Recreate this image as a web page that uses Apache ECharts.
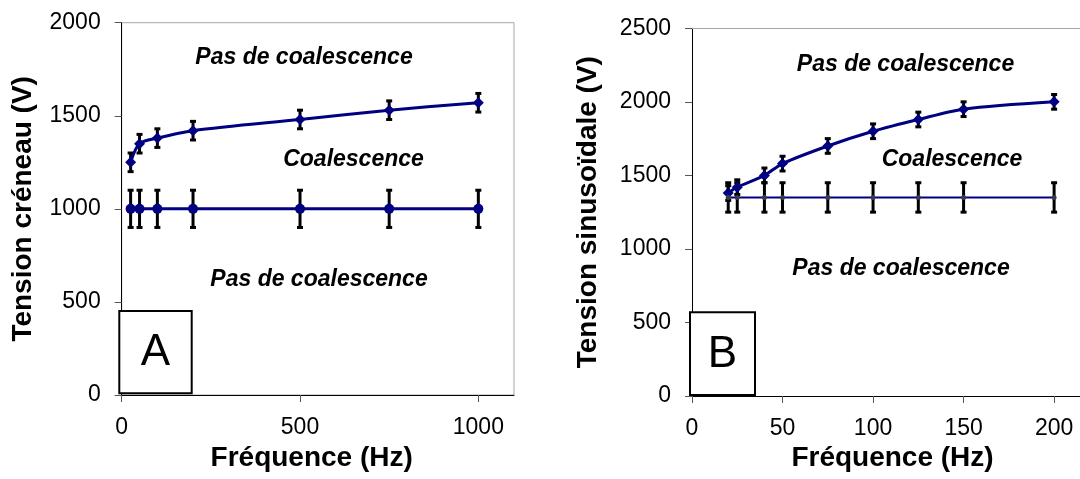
<!DOCTYPE html>
<html>
<head>
<meta charset="utf-8">
<script src="https://cdn.jsdelivr.net/npm/echarts@6/dist/echarts.min.js"></script>
<style>
  html, body { margin: 0; padding: 0; background: #fff; }
  #chart { width: 1080px; height: 479px; }
</style>
</head>
<body>
<div id="chart"></div>
<script>
// panel A : tension créneau
const freqA = [25, 50, 100, 200, 500, 750, 1000]
const upperA = [1250, 1350, 1380, 1420, 1480, 1530, 1570]
const upperErrA = [50, 50, 50, 50, 50, 50, 50]
const lowerA = [1000, 1000, 1000, 1000, 1000, 1000, 1000]
const lowerErrA = [100, 100, 100, 100, 100, 100, 100]
const xTicksA = [0, 500, 1000]

// panel B : tension sinusoïdale
const freqB = [20, 25, 40, 50, 75, 100, 125, 150, 200]
const upperB = [1380, 1420, 1500, 1580, 1700, 1800, 1880, 1950, 2000]
const upperErrB = [50, 50, 50, 50, 50, 50, 50, 50, 50]
const lowerB = [1350, 1350, 1350, 1350, 1350, 1350, 1350, 1350, 1350]
const lowerErrB = [100, 100, 100, 100, 100, 100, 100, 100, 100]
const xTicksB = [0, 50, 100, 150, 200]

const FONT = '"Liberation Sans", Arial, sans-serif'
const NAVY = '#000080'

const pairs = (xs, ys) => xs.map((x, i) => [x, ys[i]])
const plain = v => String(v)

// barres d'erreur noires avec petits chapeaux
function errorBars(idx, xs, ys, errs) {
  return {
    type: 'custom',
    xAxisIndex: idx,
    yAxisIndex: idx,
    z: 2,
    silent: true,
    data: xs.map((x, i) => [x, ys[i] - errs[i], ys[i] + errs[i]]),
    renderItem(params, api) {
      const lo = api.coord([api.value(0), api.value(1)])
      const hi = api.coord([api.value(0), api.value(2)])
      const w = 3
      const st = { stroke: '#000', lineWidth: 3 }
      return {
        type: 'group',
        children: [
          { type: 'line', shape: { x1: lo[0], y1: lo[1], x2: hi[0], y2: hi[1] }, style: st },
          { type: 'line', shape: { x1: lo[0] - w, y1: lo[1], x2: lo[0] + w, y2: lo[1] }, style: st },
          { type: 'line', shape: { x1: hi[0] - w, y1: hi[1], x2: hi[0] + w, y2: hi[1] }, style: st }
        ]
      }
    }
  }
}

function xAxis(idx, max, ticks) {
  return {
    type: 'value', gridIndex: idx, min: 0, max,
    axisLine: { lineStyle: { color: '#000', width: 1 } },
    axisTick: { inside: false, length: 7, customValues: ticks, lineStyle: { color: '#555' } },
    axisLabel: { customValues: ticks, formatter: plain, margin: 21, fontSize: 23, color: '#000', fontFamily: FONT },
    splitLine: { show: false }
  }
}

function yAxis(idx, max, name, gap) {
  return {
    type: 'value', gridIndex: idx, min: 0, max, interval: 500,
    name, nameLocation: 'middle', nameGap: gap, nameRotate: 90,
    nameTextStyle: { fontSize: 28, fontWeight: 'bold', color: '#000', fontFamily: FONT },
    axisLine: { show: true, lineStyle: { color: '#000', width: 1 } },
    axisTick: { show: true, length: 7, lineStyle: { color: '#555' } },
    axisLabel: { formatter: plain, margin: 21, fontSize: 23, color: '#000', fontFamily: FONT },
    splitLine: { show: false }
  }
}

function note(text, x, y) {
  return {
    type: 'text', x, y, z: 10,
    style: { text, font: 'italic bold 23px ' + FONT, fill: '#000', align: 'center', verticalAlign: 'middle' }
  }
}

function title(text, x, y) {
  return {
    type: 'text', x, y, z: 10,
    style: { text, font: 'bold 28px ' + FONT, fill: '#000', align: 'center', verticalAlign: 'middle' }
  }
}

function panelBox(letter, x, y, w, h) {
  return [
    { type: 'rect', shape: { x, y, width: w, height: h }, z: 20,
      style: { fill: '#fff', stroke: '#000', lineWidth: 2 } },
    { type: 'text', x: x + w / 2, y: y + h / 2 + 1, z: 21,
      style: { text: letter, font: '44px ' + FONT, fill: '#000', align: 'center', verticalAlign: 'middle' } }
  ]
}

const chart = echarts.init(document.getElementById('chart'))

chart.setOption({
  animation: false,
  backgroundColor: '#fff',
  grid: [
    { left: 121.7, top: 22.7, width: 392.3, height: 372.3, show: true, borderColor: '#a6a6a6', borderWidth: 1, containLabel: false },
    // le cadre B déborde à droite de l'image : seul le bord du haut est visible
    { left: 692, top: 28.3, right: -3, height: 367.7, show: false, containLabel: false }
  ],
  xAxis: [
    xAxis(0, 1100, xTicksA),
    xAxis(1, 214.3, xTicksB),
    {
      type: 'value', gridIndex: 1, position: 'top', min: 0, max: 214.3,
      axisLine: { show: true, lineStyle: { color: '#a6a6a6', width: 1 } },
      axisTick: { show: false }, axisLabel: { show: false }, splitLine: { show: false }
    }
  ],
  yAxis: [yAxis(0, 2000, 'Tension créneau (V)', 84), yAxis(1, 2500, 'Tension sinusoïdale (V)', 90)],
  series: [
    errorBars(0, freqA, upperA, upperErrA),
    errorBars(0, freqA, lowerA, lowerErrA),
    errorBars(1, freqB, upperB, upperErrB),
    errorBars(1, freqB, lowerB, lowerErrB),
    {
      type: 'line', xAxisIndex: 0, yAxisIndex: 0, z: 3,
      data: pairs(freqA, upperA), smooth: 0.3,
      symbol: 'diamond', symbolSize: 11,
      lineStyle: { color: NAVY, width: 3 }, itemStyle: { color: NAVY }
    },
    {
      type: 'line', xAxisIndex: 0, yAxisIndex: 0, z: 3,
      data: pairs(freqA, lowerA),
      symbol: 'circle', symbolSize: 10,
      lineStyle: { color: NAVY, width: 3 }, itemStyle: { color: NAVY }
    },
    {
      type: 'line', xAxisIndex: 1, yAxisIndex: 1, z: 3,
      data: pairs(freqB, upperB), smooth: 0.3,
      symbol: 'diamond', symbolSize: 11,
      lineStyle: { color: NAVY, width: 3 }, itemStyle: { color: NAVY }
    },
    {
      type: 'line', xAxisIndex: 1, yAxisIndex: 1, z: 3,
      data: pairs(freqB, lowerB),
      symbol: 'circle', symbolSize: 5,
      lineStyle: { color: NAVY, width: 2 }, itemStyle: { color: '#3a3a4a' }
    }
  ],
  graphic: [
    note('Pas de coalescence', 304, 58),
    note('Coalescence', 353.5, 160),
    note('Pas de coalescence', 319, 280),
    note('Pas de coalescence', 905.5, 65),
    note('Coalescence', 952, 159.3),
    note('Pas de coalescence', 901, 268.3),
    title('Fréquence (Hz)', 311.7, 458),
    title('Fréquence (Hz)', 892.5, 458.5),
    ...panelBox('A', 119.3, 311, 72.4, 82.3),
    ...panelBox('B', 690, 312.3, 65, 82.7)
  ]
})

window.addEventListener('resize', () => chart.resize())
</script>
</body>
</html>
